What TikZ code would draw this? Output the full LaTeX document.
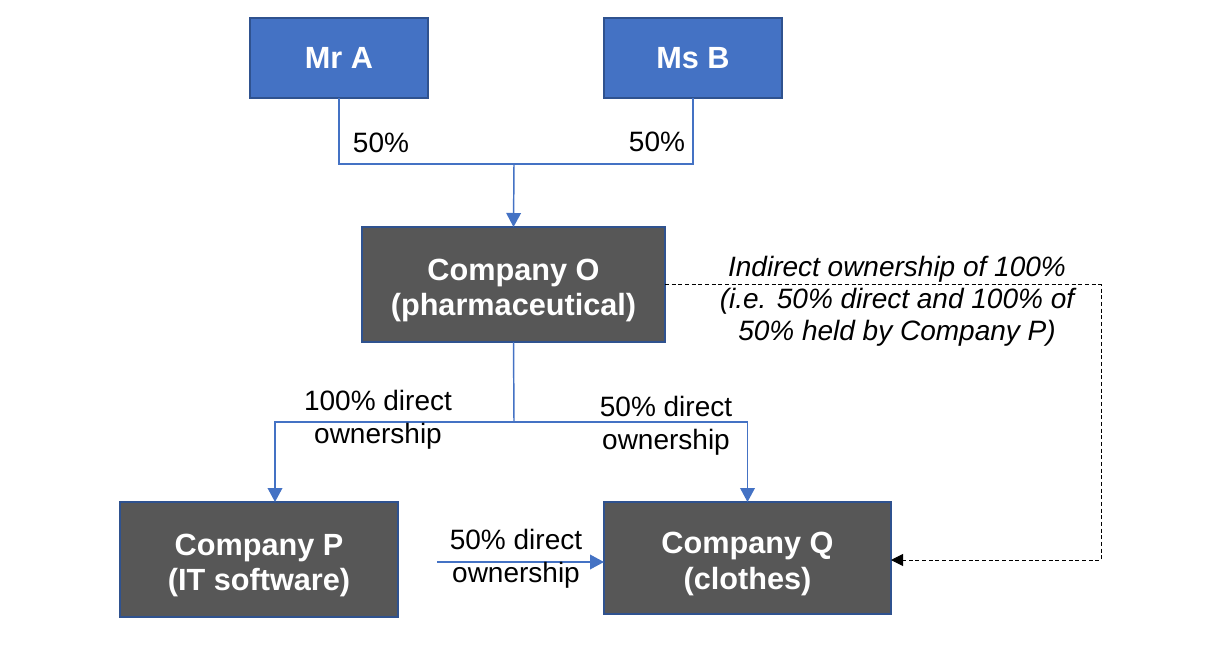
\documentclass[tikz,border=0pt]{standalone}
\usepackage{fontspec}
\setmainfont{Liberation Sans}
\usetikzlibrary{arrows.meta}
\definecolor{bluefill}{HTML}{4472C4}
\definecolor{blueedge}{HTML}{2F528F}
\definecolor{darkfill}{HTML}{575757}
\definecolor{conncol}{HTML}{4472C4}
\newcommand{\topstrut}{\rule{0pt}{25pt}}
\tikzset{
  person/.style={draw=blueedge, line width=1.5pt, fill=bluefill, text=white, inner sep=0pt, outer sep=0pt,
    font=\fontsize{23}{27}\selectfont\bfseries, align=center},
  company/.style={draw=blueedge, line width=1.5pt, fill=darkfill, text=white, inner sep=0pt, outer sep=0pt,
    font=\fontsize{23}{26.5}\selectfont\bfseries, align=center},
  lbl/.style={inner sep=0pt, align=center, font=\fontsize{21}{25}\selectfont},
  ilbl/.style={inner sep=0pt, align=center, font=\fontsize{21}{24}\selectfont\itshape},
  conn/.style={draw=conncol, line width=1.1pt},
  arr/.style={conn, -{Triangle[width=11pt,length=10.5pt]}},
  dashline/.style={draw=black, line width=0.75pt, dash pattern=on 3pt off 2pt, -{Triangle[width=9pt,length=9pt]}}
}
\begin{document}
\begin{tikzpicture}[x=0.75pt,y=-0.75pt]
\useasboundingbox (0,0) rectangle (1230,646);
\node[person, minimum width=133.5pt, minimum height=60pt] (A) at (339,58) {Mr A};
\node[person, minimum width=133.5pt, minimum height=60pt] (B) at (693,58) {Ms B};
\node[company, minimum width=227.25pt, minimum height=86.25pt] (O) at (513.5,284.5) {\topstrut Company O\\(pharmaceutical)};
\node[company, minimum width=208.5pt, minimum height=86.25pt] (P) at (259,559.5) {\topstrut Company P\\(IT software)};
\node[company, minimum width=215.25pt, minimum height=84pt] (Q) at (747.5,558) {\topstrut Company Q\\(clothes)};

\coordinate (j1) at (514,164);
\coordinate (j2) at (514,422);
\coordinate (pin) at (275,422);
\coordinate (pq) at (437,562);
\coordinate (dc) at (1101,560);

\draw[conn] (A.south) |- (j1) -| (B.south);
\draw[arr] (j1) -- (O.north);
\draw[conn] (O.south) -- (j2);
\draw[arr] (j2) -- (pin) -- (pin |- P.north);
\draw[arr] (j2) -| (Q.north);
\draw[arr] (pq) -- (pq -| Q.west);
\draw[dashline] (O.east) -| (dc) -- (dc -| Q.east);

\node[lbl] (lA) at (381,143) {50\%};
\node[lbl] (lB) at (657,142) {50\%};
\node[lbl] (lOP) at (378,420) {100\% direct\\ownership};
\node[lbl] (lOQ) at (666,426) {50\% direct\\ownership};
\node[lbl] (lPQ) at (516,559) {50\% direct\\ownership};
\node[ilbl] (lind) at (897,301) {Indirect ownership of 100\%\\(i.e. 50\% direct and 100\% of\\50\% held by Company P)};
\end{tikzpicture}
\end{document}
